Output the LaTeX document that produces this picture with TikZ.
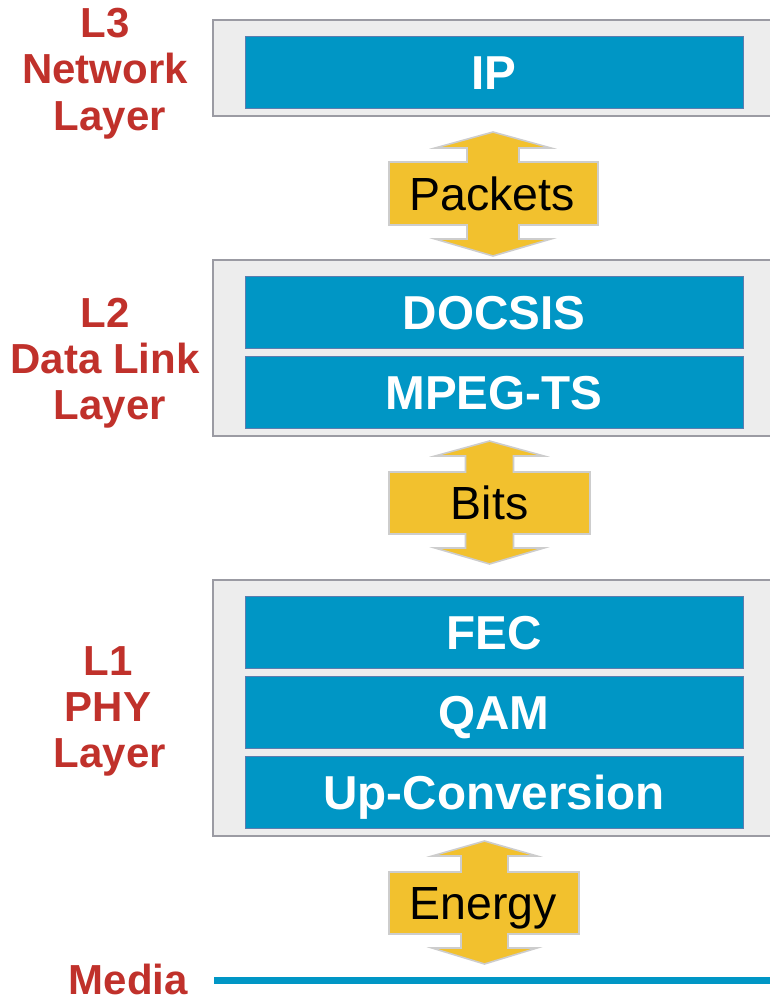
\documentclass[tikz,border=0pt]{standalone}
\usepackage{fontspec}
\setmainfont{Liberation Sans}
\definecolor{boxgray}{RGB}{237,237,237}
\definecolor{boxborder}{RGB}{155,155,163}
\definecolor{blkblue}{RGB}{0,150,197}
\definecolor{blkborder}{RGB}{92,125,175}
\definecolor{arrowyellow}{RGB}{242,193,46}
\definecolor{arrowborder}{RGB}{205,205,205}
\definecolor{labelred}{RGB}{192,49,43}
\begin{document}
\begin{tikzpicture}[x=1pt,y=-1pt,
  layerbox/.style={fill=boxgray, draw=boxborder, line width=1.6pt},
  blk/.style={fill=blkblue, draw=blkborder, line width=1pt, minimum width=498pt,
    minimum height=72pt, inner sep=0pt, text=white, text height=34pt, text depth=0pt,
    font=\fontsize{47.6}{52}\selectfont\bfseries},
  dblarrow/.style={fill=arrowyellow, draw=arrowborder, line width=1.6pt, line join=miter},
  arrowlbl/.style={anchor=base, inner sep=0pt, text=black, font=\fontsize{46.5}{52}\selectfont},
  redlbl/.style={anchor=base, inner sep=0pt, text=labelred, font=\fontsize{42}{48}\selectfont\bfseries},
  mediarule/.style={draw=blkblue, line width=7pt}
]
\useasboundingbox (0,0) rectangle (770,999);
\clip (0,0) rectangle (770,999);

% ---------- Layer containers ----------
\draw[layerbox] (213,20) rectangle (790,116);
\draw[layerbox] (213,260) rectangle (790,436);
\draw[layerbox] (213,580) rectangle (790,836);

% ---------- Blue blocks ----------
\node[blk] (ip)     at (494,72)  {IP};
\node[blk] (docsis) at (494,312) {DOCSIS};
\node[blk] (mpeg)   at (494,392) {MPEG-TS};
\node[blk] (fec)    at (494,632) {FEC};
\node[blk] (qam)    at (494,712) {QAM};
\node[blk] (upc)    at (494,792) {Up-Conversion};

% ---------- Double arrows ----------
\draw[dblarrow] (493,132) -- (551,148) -- (519,148) -- (519,162) -- (598,162) -- (598,225)
  -- (519,225) -- (519,239) -- (551,239) -- (493,256) -- (435,239) -- (467,239) -- (467,225)
  -- (389,225) -- (389,162) -- (467,162) -- (467,148) -- (435,148) -- cycle;
\node[arrowlbl] (packets) at (492,210) {Packets};

\draw[dblarrow] (489.5,441) -- (544,456) -- (513.5,456) -- (513.5,472) -- (590,472) -- (590,534)
  -- (513.5,534) -- (513.5,548) -- (544,548) -- (489.5,564) -- (435,548) -- (465.5,548) -- (465.5,534)
  -- (389,534) -- (389,472) -- (465.5,472) -- (465.5,456) -- (435,456) -- cycle;
\node[arrowlbl] (bits) at (489.5,519.5) {Bits};

\draw[dblarrow] (484.5,841) -- (537,856) -- (508,856) -- (508,872) -- (579,872) -- (579,934)
  -- (508,934) -- (508,948) -- (537,948) -- (484.5,964) -- (432,948) -- (461,948) -- (461,934)
  -- (389,934) -- (389,872) -- (461,872) -- (461,856) -- (432,856) -- cycle;
\node[arrowlbl] (energy) at (483,919) {Energy};

% ---------- Media line ----------
\coordinate (mediaL) at (214,980);
\coordinate (mediaR) at (790,980);
\draw[mediarule] (mediaL) -- (mediaR);

% ---------- Red layer labels ----------
\node[redlbl] (l3a) at (105,37)  {L3};
\node[redlbl] (l3b) at (105,83)  {Network};
\node[redlbl] (l3c) at (110,130) {Layer};

\node[redlbl] (l2a) at (105,327) {L2};
\node[redlbl] (l2b) at (105,373) {Data Link};
\node[redlbl] (l2c) at (110,419) {Layer};

\node[redlbl] (l1a) at (108,675) {L1};
\node[redlbl] (l1b) at (108,721) {PHY};
\node[redlbl] (l1c) at (110,767) {Layer};

\node[redlbl, anchor=base east] (media) at (188,994) {Media};
\end{tikzpicture}
\end{document}
